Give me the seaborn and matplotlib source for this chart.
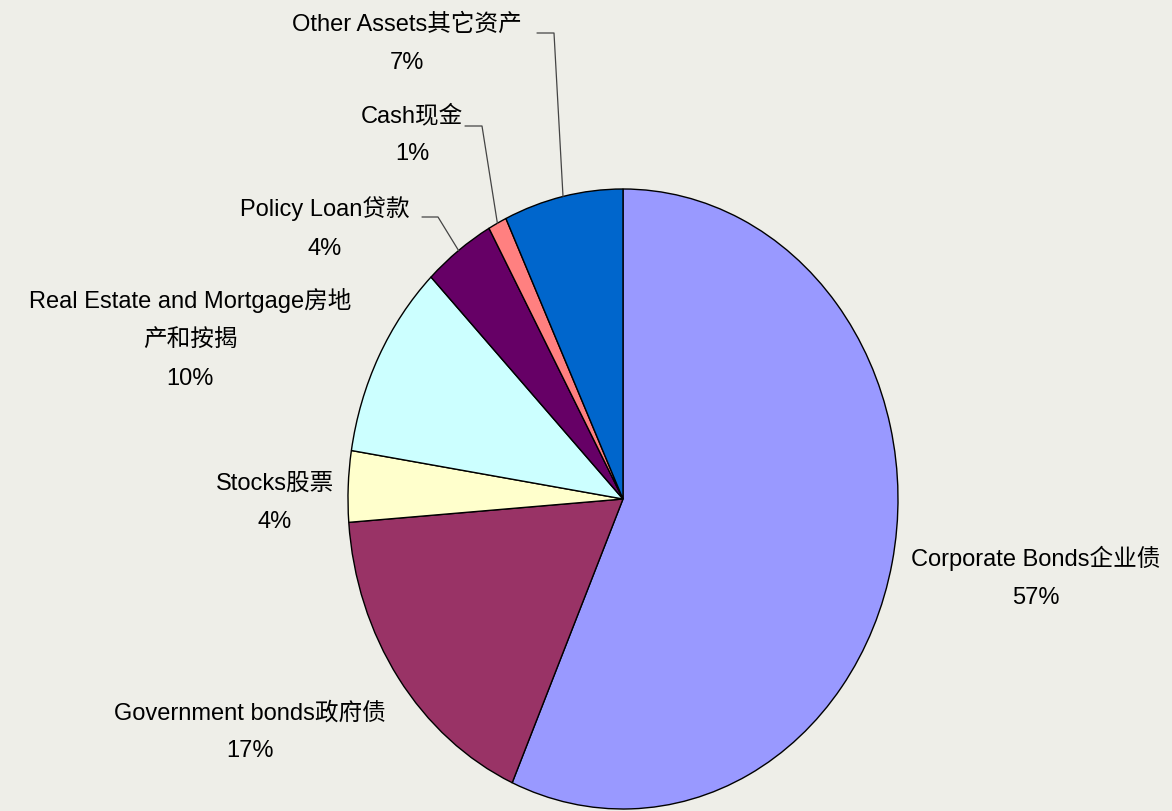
import matplotlib.pyplot as plt
import numpy as np
import seaborn as sns

categories = ["Corporate Bonds企业债", "Government bonds政府债", "Stocks股票",
              "Real Estate and Mortgage房地\n产和按揭", "Policy Loan贷款", "Cash现金",
              "Other Assets其它资产"]
shares = [56.6, 17.2, 3.7, 10.2, 4.2, 1.1, 7.0]
colors = ["#9999FF", "#993366", "#FFFFCC", "#CCFFFF", "#660066", "#FF8080", "#0066CC"]

sns.set_theme(style="white")
plt.rcParams["font.family"] = ["Liberation Sans", "Noto Sans CJK SC", "DejaVu Sans"]

W, H = 1172, 811
cx, cy, rx, ry = 623, 499, 275, 310


def to_data(px, py):
    return (px - cx) / rx, (cy - py) / ry


fig = plt.figure(figsize=(W / 100, H / 100), dpi=100)
fig.patch.set_facecolor("#EEEEE8")
ax = fig.add_axes([0, 0, 1, 1])
ax.set_facecolor("#EEEEE8")

wedges, _ = ax.pie(shares, colors=colors, startangle=90, counterclock=False,
                   wedgeprops=dict(edgecolor="black", linewidth=1))
ax.set_aspect("auto")
ax.set_xlim(-cx / rx, (W - cx) / rx)
ax.set_ylim(-(H - cy) / ry, cy / ry)
ax.axis("off")

# label block centres (pixels) and optional leader elbow
label_pos = [(1036, 577), (250, 732), (275, 503), (190, 339), (325, 228), (412, 135), (407, 44)]
leaders = {4: (422, 438, 217), 5: (465, 482, 126), 6: (537, 554, 33)}

for i, (w, lab) in enumerate(zip(wedges, categories)):
    pct = round(shares[i])
    x, y = to_data(*label_pos[i])
    ax.text(x, y, f"{lab}\n{pct}%", ha="center", va="center", fontsize=17,
            linespacing=1.95, color="black")
    if i in leaders:
        x0, x1, ly = leaders[i]
        mid = np.deg2rad((w.theta1 + w.theta2) / 2)
        ex, ey = np.cos(mid), np.sin(mid)
        ax.plot([to_data(x0, ly)[0], to_data(x1, ly)[0], ex],
                [to_data(x0, ly)[1], to_data(x1, ly)[1], ey],
                color="#444444", lw=0.9)

fig.savefig("out.png", dpi=100, facecolor=fig.get_facecolor())
